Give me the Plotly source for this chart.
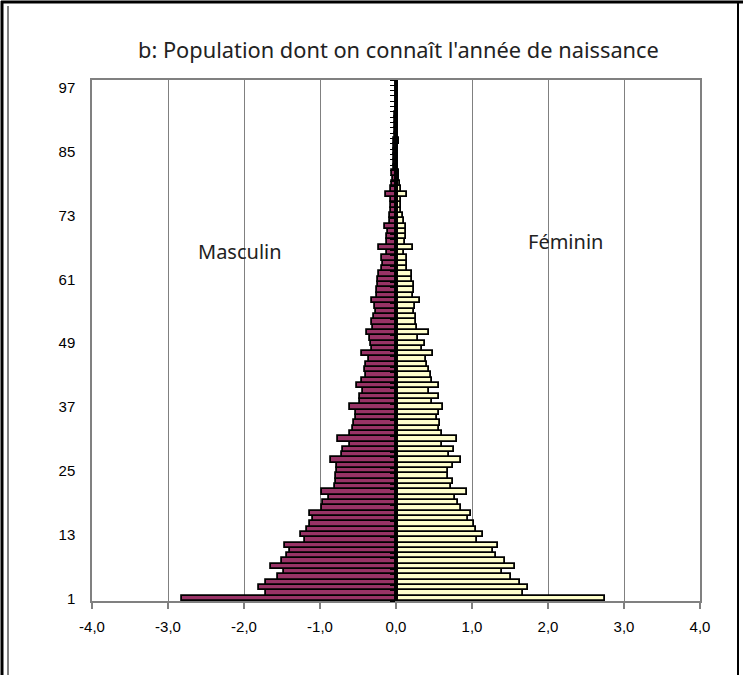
import plotly.graph_objects as go

ages = list(range(1, 99))

masculin = [
    -2.81, -1.71, -1.80, -1.71, -1.55, -1.47, -1.65, -1.50, -1.43, -1.39,
    -1.46, -1.20, -1.25, -1.17, -1.13, -1.09, -1.13, -0.98, -0.96, -0.88,
    -0.98, -0.80, -0.79, -0.79, -0.77, -0.77, -0.86, -0.71, -0.70, -0.61,
    -0.76, -0.61, -0.56, -0.55, -0.53, -0.53, -0.60, -0.47, -0.48, -0.44,
    -0.51, -0.45, -0.40, -0.41, -0.39, -0.35, -0.45, -0.32, -0.33, -0.34,
    -0.38, -0.30, -0.31, -0.29, -0.26, -0.27, -0.31, -0.25, -0.25, -0.24,
    -0.24, -0.23, -0.18, -0.17, -0.18, -0.12, -0.23, -0.12, -0.12, -0.11,
    -0.14, -0.08, -0.08, -0.07, -0.07, -0.06, -0.13, -0.06, -0.05, -0.04,
    -0.05, -0.03, -0.03, -0.02, -0.02, -0.02, -0.03, -0.01, -0.01, -0.01,
    -0.01, -0.01, -0.005, -0.005, -0.005, -0.005, -0.005, -0.005,
]

feminin = [
    2.75, 1.67, 1.74, 1.63, 1.51, 1.40, 1.56, 1.43, 1.32, 1.28,
    1.34, 1.06, 1.15, 1.05, 1.02, 0.95, 0.99, 0.86, 0.81, 0.78,
    0.94, 0.72, 0.75, 0.69, 0.69, 0.75, 0.86, 0.70, 0.76, 0.61,
    0.80, 0.61, 0.56, 0.58, 0.54, 0.57, 0.62, 0.47, 0.57, 0.44,
    0.57, 0.47, 0.46, 0.44, 0.41, 0.40, 0.49, 0.34, 0.38, 0.29,
    0.43, 0.27, 0.26, 0.26, 0.24, 0.25, 0.32, 0.23, 0.24, 0.24,
    0.21, 0.21, 0.14, 0.14, 0.14, 0.10, 0.23, 0.12, 0.13, 0.13,
    0.13, 0.11, 0.09, 0.07, 0.06, 0.06, 0.14, 0.06, 0.05, 0.04,
    0.04, 0.03, 0.02, 0.02, 0.02, 0.02, 0.04, 0.01, 0.01, 0.01,
    0.01, 0.005, 0.005, 0.005, 0.005, 0.005, 0.005, 0.005,
]

y_tick_vals = [1, 13, 25, 37, 49, 61, 73, 85, 97]
x_tick_vals = [-4, -3, -2, -1, 0, 1, 2, 3, 4]
x_tick_text = ["-4,0", "-3,0", "-2,0", "-1,0", "0,0", "1,0", "2,0", "3,0", "4,0"]

title_text = "b: Population dont on connaît l'année de naissance"
label_m = "Masculin"
label_f = "Féminin"

W, H = 743, 675
L, R, T, B = 92, 43, 80, 74
pw, ph = W - L - R, H - T - B

def px(x):
    return (x - L) / pw

def py(y):
    return (H - B - y) / ph

fig = go.Figure()
fig.add_trace(go.Bar(
    y=ages, x=masculin, orientation="h", name="Masculin",
    marker=dict(color="#993366", line=dict(color="black", width=1.8)),
))
fig.add_trace(go.Bar(
    y=ages, x=feminin, orientation="h", name="Féminin",
    marker=dict(color="#FFFFCC", line=dict(color="black", width=1.8)),
))
# invisible trace to carry the central axis
fig.add_trace(go.Scatter(x=[0], y=[1], yaxis="y2", mode="markers",
                         marker=dict(opacity=0), showlegend=False, hoverinfo="skip"))

txt = dict(xref="paper", yref="paper", showarrow=False, xanchor="center", yanchor="middle")

fig.update_layout(
    width=W, height=H,
    margin=dict(l=L, r=R, t=T, b=B),
    paper_bgcolor="white", plot_bgcolor="white",
    barmode="relative", bargap=0,
    showlegend=False,
    font=dict(family="Liberation Sans, Arial, sans-serif", size=15, color="black"),
    xaxis=dict(
        range=[-4, 4], tickvals=x_tick_vals, ticktext=x_tick_text,
        showgrid=True, gridcolor="#808080", gridwidth=1, zeroline=False,
        showline=True, linecolor="#808080", linewidth=1.5, mirror=True,
        ticks="outside", ticklen=6, tickcolor="#808080", tickwidth=1.5,
        tickfont=dict(size=15, color="black"), ticklabelstandoff=5,
    ),
    yaxis=dict(
        range=[0.5, 98.5], tickvals=y_tick_vals,
        showgrid=False, zeroline=False,
        showline=True, linecolor="#808080", linewidth=1.5, mirror=True,
        ticks="outside", ticklen=12, tickcolor="rgba(0,0,0,0)",
        tickfont=dict(size=15, color="black"),
    ),
    yaxis2=dict(
        range=[0.5, 98.5], overlaying="y", anchor="free", position=0.5,
        side="left", showgrid=False, zeroline=False,
        showline=True, linecolor="black", linewidth=2.5,
        tickmode="linear", tick0=0.5, dtick=1,
        ticks="outside", ticklen=5, tickcolor="black", tickwidth=1,
        showticklabels=False,
    ),
    annotations=[
        dict(text=title_text, x=px(398), y=py(50),
             font=dict(family="Noto Sans, sans-serif", size=21.8, color="#222222"), **txt),
        dict(text=label_m, x=px(240), y=py(251),
             font=dict(family="Noto Sans, sans-serif", size=20, color="#222222"), **txt),
        dict(text=label_f, x=px(565), y=py(241),
             font=dict(family="Noto Sans, sans-serif", size=20, color="#222222"), **txt),
    ],
    shapes=[
        dict(type="line", xref="paper", yref="paper", x0=px(1), x1=px(743), y0=py(2), y1=py(2),
             line=dict(color="black", width=3)),
        dict(type="line", xref="paper", yref="paper", x0=px(2), x1=px(2), y0=py(1), y1=py(675),
             line=dict(color="black", width=3)),
        dict(type="line", xref="paper", yref="paper", x0=px(8), x1=px(8), y0=py(6), y1=py(675),
             line=dict(color="black", width=1)),
        dict(type="line", xref="paper", yref="paper", x0=px(738), x1=px(738), y0=py(2), y1=py(675),
             line=dict(color="black", width=2)),
    ],
)

fig.write_html(
    "out.html",
    config={"displayModeBar": False},
    post_script="document.body.style.margin='0px';document.body.style.overflow='hidden';",
)
